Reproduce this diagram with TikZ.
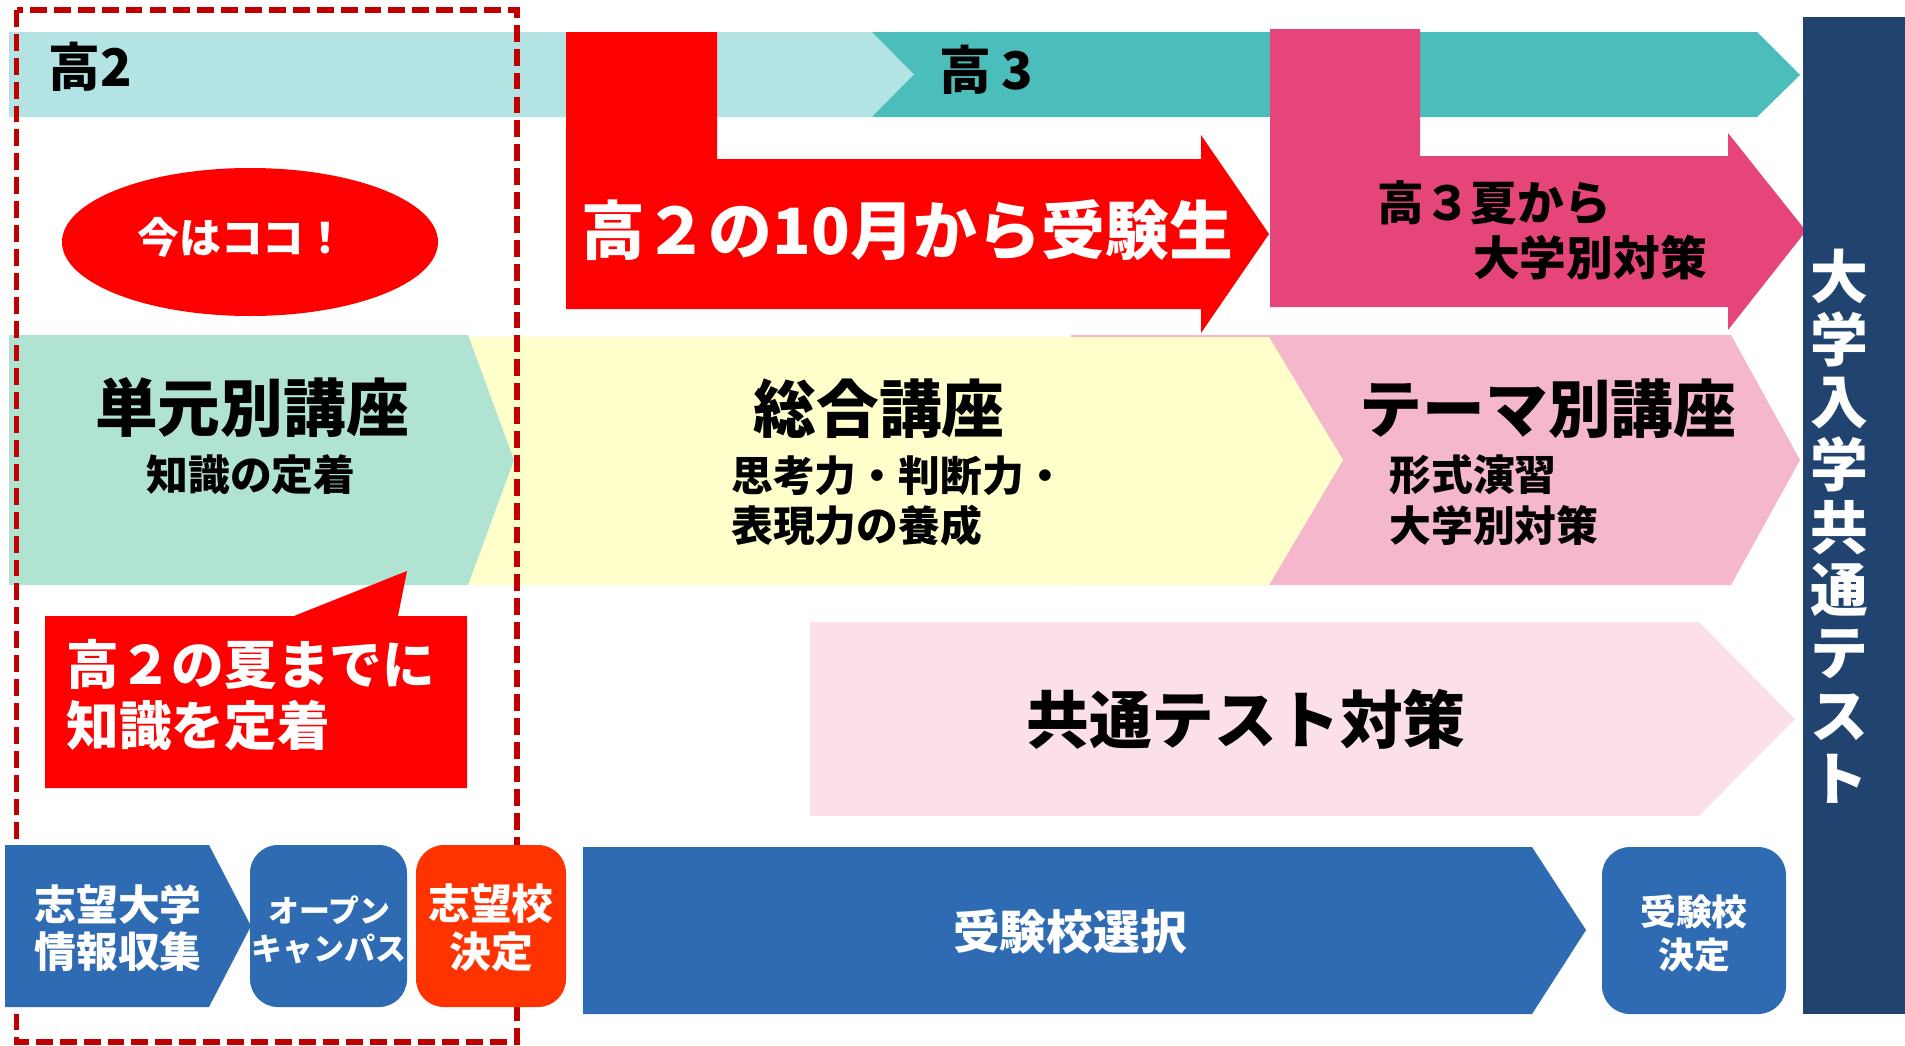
\documentclass[tikz,border=0pt]{standalone}
\usepackage{fontspec}
\setmainfont{Noto Sans CJK JP}[BoldFont={Noto Sans CJK JP Black}]
\usetikzlibrary{calc}
\definecolor{bandLight}{HTML}{B3E3E2}
\definecolor{bandTeal}{HTML}{4BBDBA}
\definecolor{examRed}{HTML}{FF0000}
\definecolor{summerPink}{HTML}{E6457A}
\definecolor{testNavy}{HTML}{20446F}
\definecolor{unitGreen}{HTML}{B1E3D2}
\definecolor{sogoYellow}{HTML}{FFFFCC}
\definecolor{themePink}{HTML}{F4B7CC}
\definecolor{kyotsuPink}{HTML}{FBE0E8}
\definecolor{stepBlue}{HTML}{2E6BB3}
\definecolor{stepOrange}{HTML}{FF3300}
\definecolor{dashRed}{HTML}{C00000}
\newcommand{\jpSize}[2]{\fontsize{#1}{#2}\selectfont\bfseries}
\newcommand{\drawChevron}[5]{
	\fill[#5] let
		\p1 = (#1), \p2 = (#2), \p3 = (#3)
		in
		(\x1,\y1) -- (\x2,\y1) -- (\x3,\y3) -- (\x2,\y2) -- (\x1,\y2) -- ($(\x1,{(\y1+\y2)/2})+(#4,0)$) -- cycle;
}
\newcommand{\drawRoundBox}[3]{
	\fill[#3, rounded corners=0.56cm] (#1) rectangle (#2);
}
\tikzset{
	lbl/.style={inner sep=0pt, text=black},
	lblW/.style={inner sep=0pt, text=white}
}

\begin{document}
\begin{tikzpicture}[x=0.02cm, y=-0.02cm]
		\useasboundingbox (0,0) rectangle (1905,1045);

		\coordinate (Y2_L) at (9,32);
		\coordinate (Y2_R) at (872,117);
		\coordinate (Y2_T) at (914,75);
		\coordinate (Y3_L) at (872,32);
		\coordinate (Y3_R) at (1757,117);
		\coordinate (Y3_T) at (1800,75);
		\coordinate (C1_L) at (9,335);
		\coordinate (C1_R) at (468,585);
		\coordinate (C1_T) at (514,460);
		\coordinate (C2_L) at (468,337);
		\coordinate (C2_R) at (1269,585);
		\coordinate (C2_T) at (1343,460);
		\coordinate (C3_L) at (1071,335);
		\coordinate (C3_R) at (1731,585);
		\coordinate (C3_T) at (1800,460);
		\coordinate (C4_L) at (810,622);
		\coordinate (C4_R) at (1699,816);
		\coordinate (C4_T) at (1795,719);
		\coordinate (S1_L) at (5,845);
		\coordinate (S1_R) at (209,1007);
		\coordinate (S1_T) at (251,926);
		\coordinate (S2_L) at (250,845);
		\coordinate (S2_R) at (407,1007);
		\coordinate (S3_L) at (416,845);
		\coordinate (S3_R) at (566,1007);
		\coordinate (S4_L) at (583,847);
		\coordinate (S4_R) at (1532,1014);
		\coordinate (S4_T) at (1586,930);
		\coordinate (S5_L) at (1602,847);
		\coordinate (S5_R) at (1786,1014);

		\drawChevron{Y2_L}{Y2_R}{Y2_T}{0}{bandLight}
		\drawChevron{Y3_L}{Y3_R}{Y3_T}{42}{bandTeal}

		\fill[examRed] (566,32) -- (717,32) -- (717,159) -- (1201,159) -- (1201,135) -- (1269,234)
			-- (1201,333) -- (1201,309) -- (566,309) -- cycle;
		\fill[summerPink] (1270,29) -- (1420,29) -- (1420,156) -- (1728,156) -- (1728,133) -- (1806,231)
			-- (1728,330) -- (1728,307) -- (1270,307) -- cycle;
		\fill[examRed] (250,242) ellipse [x radius=188, y radius=74];

		\drawChevron{C3_L}{C3_R}{C3_T}{0}{themePink}
		\drawChevron{C2_L}{C2_R}{C2_T}{0}{sogoYellow}
		\drawChevron{C1_L}{C1_R}{C1_T}{0}{unitGreen}
		\drawChevron{C4_L}{C4_R}{C4_T}{0}{kyotsuPink}

		\fill[examRed] (45,616) -- (294,616) -- (407,571) -- (398,616) -- (467,616) -- (467,788) -- (45,788) -- cycle;

		\draw[dashRed, line width=3.4pt, dash pattern=on 9.6pt off 4pt] (16.5,10) rectangle (517,1042);

		\drawChevron{S1_L}{S1_R}{S1_T}{0}{stepBlue}
		\drawRoundBox{S2_L}{S2_R}{stepBlue}
		\drawRoundBox{S3_L}{S3_R}{stepOrange}
		\drawChevron{S4_L}{S4_R}{S4_T}{0}{stepBlue}
		\drawRoundBox{S5_L}{S5_R}{stepBlue}

		\fill[testNavy] (1803,17) rectangle (1905,1014);

		\node[lbl, anchor=west, font=\jpSize{29.5pt}{29.5pt}] (T_Ko2) at (48,67) {高2};
		\node[lbl, anchor=west, font=\jpSize{29.5pt}{29.5pt}] (T_Ko3) at (939,70) {高\hspace{0.2em}3};
		\node[lblW, font=\jpSize{23.8pt}{23.8pt}] (T_Now) at (C1_L |- 0,237) [xshift=4.66cm] {今はココ！};
		\node[lblW, font=\jpSize{36.3pt}{36.3pt}] (T_Exam) at (907,230) {高２の10月から受験生};
		\node[lbl, align=left, font=\jpSize{26.6pt}{31.2pt}] (T_Summer) at (1542,230) {高３夏から\\\hspace*{2.05em}大学別対策};
		\node[lblW, align=center, font=\jpSize{32.9pt}{35.7pt}] (T_Kyotsu) at (1839,526) {大\\学\\入\\学\\共\\通\\テ\\ス\\ト};

		\node[lbl, font=\jpSize{35.7pt}{35.7pt}] (T_Unit) at (252,407) {単元別講座};
		\node[lbl, font=\jpSize{23.8pt}{23.8pt}] (T_UnitSub) at (251,475) {知識の定着};
		\node[lbl, font=\jpSize{35.7pt}{35.7pt}] (T_Sogo) at (879,409) {総合講座};
		\node[lbl, anchor=west, align=left, font=\jpSize{23.8pt}{28.9pt}] (T_SogoSub) at (731,501) {思考力・判断力・\\表現力の養成};
		\node[lbl, font=\jpSize{35.7pt}{35.7pt}] (T_Theme) at (1548,409) {テーマ別講座};
		\node[lbl, anchor=west, align=left, font=\jpSize{23.8pt}{28.9pt}] (T_ThemeSub) at (1389,500) {形式演習\\大学別対策};
		\node[lblW, anchor=west, align=left, font=\jpSize{30pt}{35.1pt}] (T_Call) at (66,695) {高２の夏までに\\知識を定着};
		\node[lbl, font=\jpSize{35.7pt}{35.7pt}] (T_KyoTaisaku) at (1246,719) {共通テスト対策};

		\node[lblW, align=center, font=\jpSize{23.8pt}{27.2pt}] (T_Info) at (118,928) {志望大学\\情報収集};
		\node[lblW, align=center, font=\jpSize{17.6pt}{21.5pt}] (T_Open) at (329,930) {オープン\\キャンパス};
		\node[lblW, align=center, font=\jpSize{23.8pt}{27.2pt}] (T_Shibo) at (491,928) {志望校\\決定};
		\node[lblW, font=\jpSize{26.6pt}{26.6pt}] (T_Select) at (1070,932) {受験校選択};
		\node[lblW, align=center, font=\jpSize{20.4pt}{24.4pt}] (T_Decide) at (1694,933) {受験校\\決定};

	\end{tikzpicture}
\end{document}
